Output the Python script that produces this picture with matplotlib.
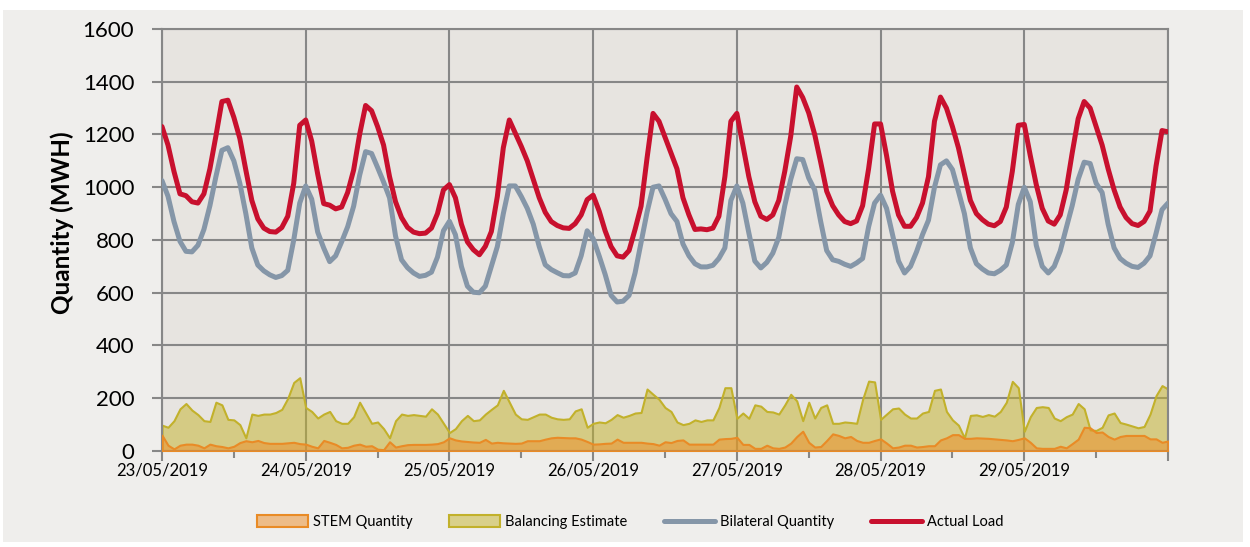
'''
Weekly load chart : actual load, bilateral, balancing and STEM quantities
'''

#================================================================================================================================================
import matplotlib
matplotlib.use('Agg')
import matplotlib.pyplot as plt
import numpy as np
from matplotlib.patches import Rectangle

#================================================================================================================================================
# Hourly values (MWh), 23/05/2019 00:00 through 30/05/2019 00:00 -> 169 points each
dayLabels = ['23/05/2019', '24/05/2019', '25/05/2019', '26/05/2019',
             '27/05/2019', '28/05/2019', '29/05/2019']

actualLoad = [
    1230, 1160, 1060, 975, 968, 945, 940, 975, 1070, 1194, 1325, 1330, 1265, 1185, 1065, 950, 880, 845, 832, 830, 847, 890, 1015, 1235,
    1255, 1175, 1050, 938, 932, 918, 925, 980, 1065, 1200, 1310, 1290, 1230, 1160, 1040, 945, 885, 848, 830, 824, 826, 845, 900, 990,
    1010, 960, 860, 793, 763, 744, 776, 832, 965, 1150, 1255, 1205, 1155, 1100, 1030, 960, 905, 870, 855, 846, 844, 862, 895, 953,
    970, 910, 835, 775, 740, 735, 760, 840, 928, 1110, 1280, 1250, 1190, 1130, 1070, 960, 895, 840, 842, 839, 845, 890, 1040, 1250,
    1280, 1160, 1040, 945, 890, 878, 895, 950, 1060, 1194, 1380, 1340, 1282, 1200, 1095, 985, 930, 895, 870, 862, 872, 930, 1070, 1240,
    1240, 1120, 985, 895, 852, 852, 885, 940, 1040, 1250, 1342, 1300, 1230, 1150, 1050, 950, 900, 877, 860, 854, 870, 925, 1060, 1235,
    1238, 1120, 1010, 920, 872, 860, 895, 990, 1130, 1260, 1325, 1300, 1230, 1160, 1070, 990, 925, 885, 862, 855, 870, 910, 1080, 1215,
    1210]

bilateralQuantity = [
    1025, 966, 870, 795, 757, 755, 780, 840, 930, 1040, 1140, 1150, 1100, 1015, 900, 770, 705, 683, 668, 658, 665, 685, 800, 940,
    1005, 955, 830, 770, 718, 740, 793, 850, 928, 1045, 1135, 1128, 1075, 1020, 960, 815, 725, 695, 675, 662, 666, 678, 735, 835,
    871, 820, 700, 625, 602, 600, 625, 700, 775, 900, 1005, 1005, 965, 920, 860, 775, 706, 688, 676, 665, 664, 675, 740, 835,
    805, 740, 670, 590, 565, 568, 590, 675, 790, 905, 1000, 1005, 955, 900, 870, 785, 740, 710, 698, 698, 704, 730, 770, 950,
    1005, 940, 827, 720, 694, 715, 750, 810, 930, 1030, 1108, 1105, 1035, 990, 870, 760, 725, 719, 708, 700, 713, 730, 850, 940,
    970, 920, 820, 720, 675, 700, 755, 820, 875, 1000, 1085, 1100, 1067, 985, 900, 770, 710, 690, 675, 672, 685, 705, 790, 935,
    1000, 945, 780, 700, 675, 700, 758, 845, 930, 1030, 1095, 1090, 1015, 980, 860, 770, 730, 712, 700, 696, 712, 740, 825, 915,
    940]

balancingEstimate = [
    98, 90, 115, 160, 180, 155, 138, 115, 112, 185, 175, 120, 118, 100, 50, 140, 135, 140, 140, 146, 158, 200, 260, 278,
    165, 150, 125, 140, 150, 115, 105, 105, 130, 185, 145, 105, 110, 85, 50, 115, 140, 135, 138, 135, 132, 160, 140, 105,
    70, 85, 115, 135, 115, 118, 140, 158, 175, 230, 185, 140, 122, 120, 130, 140, 140, 128, 122, 120, 122, 152, 160, 90,
    105, 110, 107, 120, 138, 128, 135, 144, 146, 235, 215, 196, 165, 150, 110, 100, 105, 118, 112, 118, 118, 165, 240, 240,
    124, 144, 124, 175, 170, 150, 148, 140, 175, 215, 190, 115, 185, 125, 165, 175, 105, 105, 110, 108, 105, 196, 265, 262,
    120, 140, 160, 163, 140, 125, 125, 144, 150, 230, 235, 150, 118, 98, 50, 135, 137, 131, 138, 132, 150, 185, 264, 240,
    75, 130, 165, 168, 165, 125, 115, 130, 140, 180, 160, 80, 78, 90, 137, 144, 108, 102, 95, 88, 93, 140, 210, 248,
    235]

stemQuantity = [
    60, 22, 8, 22, 26, 26, 22, 12, 26, 20, 17, 12, 18, 32, 39, 35, 40, 32, 29, 29, 29, 31, 33, 28,
    26, 18, 12, 40, 33, 25, 12, 14, 22, 26, 18, 20, 7, 5, 35, 15, 20, 24, 25, 25, 25, 26, 28, 35,
    50, 42, 38, 36, 34, 33, 44, 30, 33, 31, 30, 29, 30, 39, 39, 39, 45, 50, 52, 51, 50, 50, 45, 36,
    26, 27, 29, 30, 45, 33, 33, 33, 33, 30, 28, 22, 35, 32, 40, 42, 26, 26, 26, 26, 26, 45, 47, 48,
    52, 25, 25, 10, 10, 22, 12, 10, 15, 30, 55, 75, 33, 15, 17, 40, 65, 59, 50, 55, 40, 33, 33, 40,
    46, 30, 12, 15, 22, 22, 15, 17, 20, 20, 42, 50, 62, 62, 48, 48, 50, 49, 48, 46, 44, 42, 39, 44,
    50, 33, 12, 10, 10, 10, 18, 12, 28, 45, 90, 88, 70, 72, 55, 45, 55, 59, 59, 59, 59, 46, 46, 33,
    38]


#================================================================================================================================================
def plotLoadChart(fileName):
    plt.rcParams['font.family'] = ['Lato', 'DejaVu Sans']
    gridColour = '#878787'

    fig = plt.figure(figsize=(12.5, 5.47), dpi=100, facecolor='white')
    # light grey card behind the chart
    fig.patches.append(Rectangle((3 / 1250, 5 / 547), 1240 / 1250, 532 / 547, transform=fig.transFigure,
                                 facecolor='#efeeec', edgecolor='none', zorder=-5))

    ax = fig.add_axes([0.1296, 0.1755, 0.8048, 0.7715])
    ax.set_zorder(1)
    ax.set_facecolor('#e7e4e0')

    hours = np.arange(len(actualLoad))

    balHandle = ax.fill_between(hours, 0, balancingEstimate, facecolor=(0.77, 0.70, 0.16, 0.5),
                                edgecolor='#c2b12b', linewidth=1.5, zorder=2)
    stemHandle = ax.fill_between(hours, 0, stemQuantity, facecolor=(0.93, 0.55, 0.15, 0.5),
                                 edgecolor='#e98b26', linewidth=1.5, zorder=3)
    bilHandle, = ax.plot(hours, bilateralQuantity, color='#8596a8', linewidth=3.6,
                         solid_joinstyle='round', solid_capstyle='round', zorder=4)
    loadHandle, = ax.plot(hours, actualLoad, color='#c8102e', linewidth=3.6,
                          solid_joinstyle='round', solid_capstyle='round', zorder=5)

    ax.set_xlim(0, 168)
    ax.set_ylim(0, 1600)
    ax.set_yticks(np.arange(0, 1601, 200))
    ax.set_xticks(np.arange(0, 169, 24))
    ax.set_xticklabels(dayLabels + [''])
    ax.set_xticks(np.arange(12, 168, 24), minor=True)

    ax.grid(True, which='major', color=gridColour, linewidth=1.5)
    ax.set_axisbelow(True)
    for side in ['left', 'bottom', 'top', 'right']:
        ax.spines[side].set_color(gridColour)
        ax.spines[side].set_linewidth(1.5)

    ax.tick_params(axis='y', length=7, width=1.5, color=gridColour, labelsize=16, pad=13)
    ax.tick_params(axis='x', which='major', length=7, width=1.5, color=gridColour, labelsize=12, pad=1.5)
    ax.tick_params(axis='x', which='minor', length=5, width=1.5, color=gridColour)

    fig.text(0.0496, 0.592, 'Quantity (MWH)', rotation=90, fontsize=17.5, fontweight='bold',
             ha='center', va='center')

    fig.legend([stemHandle, balHandle, bilHandle, loadHandle],
               ['STEM Quantity', 'Balancing Estimate', 'Bilateral Quantity', 'Actual Load'],
               loc='center', bbox_to_anchor=(0.504, 0.045), ncol=4, frameon=False, fontsize=10.5,
               handlelength=3.5, handleheight=0.9, columnspacing=2.5, handletextpad=0.35)

    fig.savefig(fileName, dpi=100, facecolor=fig.get_facecolor())


#================================================================================================================================================
def main():
    plotLoadChart('out.png')


if __name__ == "__main__":
    main()
